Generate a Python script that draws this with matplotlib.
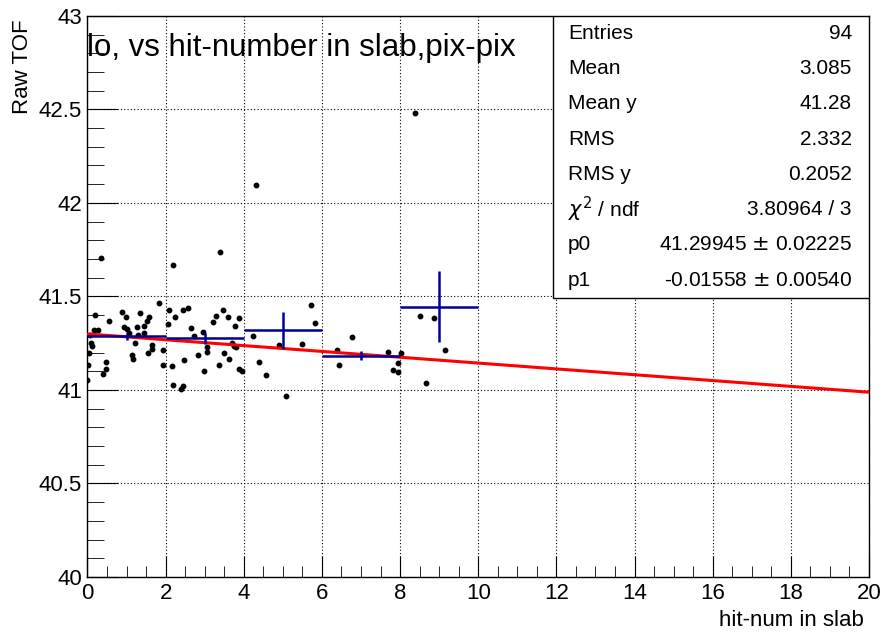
import matplotlib.pyplot as plt
import numpy as np

plt.rcParams['font.family'] = ['Liberation Sans', 'DejaVu Sans']

# scatter points: hit number in slab vs raw TOF
hit_x = [0.345, 2.179, 1.836, 0.192, 0.875, 0.558, 0.985, 1.335, 1.573, 1.522,
         0.934, 1.437, 2.092, 2.250, 0.174, 0.276, 1.003, 1.069, 1.266, 1.299,
         1.453, 0.072, 0.090, 0.123, 1.215, 1.657, 1.657, 1.540, 0.046, 1.931,
         1.146, 1.164, 0.481, 0.473, 0.013, 0.396, 1.931, 2.174, 0.000, 2.179,
         3.381, 2.442, 2.565, 2.059, 2.660, 2.946, 2.724, 3.473, 3.286, 3.606,
         3.217, 3.887, 3.780, 3.688, 3.747, 3.798, 3.056, 3.064, 2.816, 3.504,
         3.627, 2.473, 3.355, 2.972, 3.867, 3.951, 2.435, 2.391, 4.246, 4.391,
         4.573, 4.898, 4.322, 5.729, 5.831, 5.486, 5.077, 6.373, 6.425, 6.765,
         7.685, 8.023, 7.941, 7.813, 7.941, 8.504, 8.875, 9.156, 8.657, 8.394]
raw_tof = [41.704, 41.668, 41.467, 41.399, 41.417, 41.371, 41.389, 41.410, 41.389, 41.367,
           41.339, 41.342, 41.426, 41.389, 41.321, 41.321, 41.328, 41.302, 41.339, 41.293,
           41.303, 41.296, 41.253, 41.235, 41.253, 41.239, 41.221, 41.200, 41.200, 41.211,
           41.186, 41.165, 41.147, 41.114, 41.132, 41.086, 41.132, 41.128, 41.053, 41.025,
           41.738, 41.430, 41.436, 41.350, 41.329, 41.311, 41.289, 41.425, 41.396, 41.389,
           41.364, 41.382, 41.342, 41.253, 41.235, 41.232, 41.227, 41.203, 41.186, 41.200,
           41.168, 41.160, 41.134, 41.100, 41.114, 41.103, 41.021, 41.004, 41.286, 41.148,
           41.081, 41.241, 42.098, 41.455, 41.357, 41.246, 40.968, 41.212, 41.132, 41.284,
           41.205, 41.200, 41.142, 41.107, 41.095, 41.396, 41.382, 41.212, 41.035, 42.480]

# profile (bins of width 2)
prof_x = [1, 3, 5, 7, 9]
prof_y = [41.287, 41.276, 41.319, 41.182, 41.444]
prof_err = [0.020, 0.030, 0.100, 0.024, 0.190]
prof_halfwidth = 1.0

# linear fit
p0 = 41.29945
p1 = -0.01558

stats_labels = ["Entries", "Mean", "Mean y", "RMS", "RMS y",
                r"$\chi^2$ / ndf", "p0", "p1"]
stats_values = ["94", "3.085", "41.28", "2.332", "0.2052", "3.80964 / 3",
                "41.29945 $\\pm$ 0.02225", "-0.01558 $\\pm$ 0.00540"]

fig = plt.figure(figsize=(8.82, 6.32), dpi=100)
ax = fig.add_axes([0.0992, 0.087, 0.886, 0.888])

ax.set_xlim(0, 20)
ax.set_ylim(40, 43)

ax.grid(True, color='black', linestyle=(0, (1, 2)), linewidth=0.8)
ax.set_axisbelow(True)

ax.plot(hit_x, raw_tof, 'o', color='black', markersize=3.2, zorder=3)

fx = np.linspace(0, 20, 101)
ax.plot(fx, p0 + p1 * fx, color='#ff0000', linewidth=2.2, zorder=4)

ax.errorbar(prof_x, prof_y, xerr=prof_halfwidth, yerr=prof_err, fmt='none',
            ecolor='#000099', elinewidth=1.8, capsize=0, zorder=5)

ax.set_xticks(np.arange(0, 21, 2))
ax.set_xticks(np.arange(0, 20.01, 0.5), minor=True)
ax.set_yticks(np.arange(40, 43.01, 0.5))
ax.set_yticks(np.arange(40, 43.001, 0.1), minor=True)
ax.set_yticklabels(["40", "40.5", "41", "41.5", "42", "42.5", "43"])
ax.tick_params(which='both', direction='in', top=False, right=False,
               labelsize=16, color='black')
ax.tick_params(axis='x', which='major', length=15, pad=4)
ax.tick_params(axis='x', which='minor', length=8)
ax.tick_params(axis='y', which='major', length=22, pad=4)
ax.tick_params(axis='y', which='minor', length=12)
for sp in ax.spines.values():
    sp.set_linewidth(1.0)

ax.set_xlabel("hit-num in slab", fontsize=16, ha='right', va='center')
ax.xaxis.set_label_coords(0.993, -0.077)
ax.set_ylabel("Raw TOF", fontsize=16, ha='right', va='center')
ax.yaxis.set_label_coords(-0.083, 0.993)

ax.text(0.0, 43 - 0.17, "lo, vs hit-number in slab,pix-pix", fontsize=22.5,
        va='center', ha='left', zorder=6)

# stats box
bx0, by0 = 0.5957, 0.4978
ax.add_patch(plt.Rectangle((bx0, by0), 1 - bx0, 1 - by0, transform=ax.transAxes,
                           facecolor='white', edgecolor='black', linewidth=1.0, zorder=7))
row_h = (1 - by0) / len(stats_labels)
for i, (lab, val) in enumerate(zip(stats_labels, stats_values)):
    yy = 1 - (i + 0.5) * row_h
    ax.text(bx0 + 0.019, yy, lab, transform=ax.transAxes, fontsize=15,
            va='center', ha='left', zorder=8)
    ax.text(0.978, yy, val, transform=ax.transAxes, fontsize=15,
            va='center', ha='right', zorder=8)

fig.savefig("out.png", dpi=100)
